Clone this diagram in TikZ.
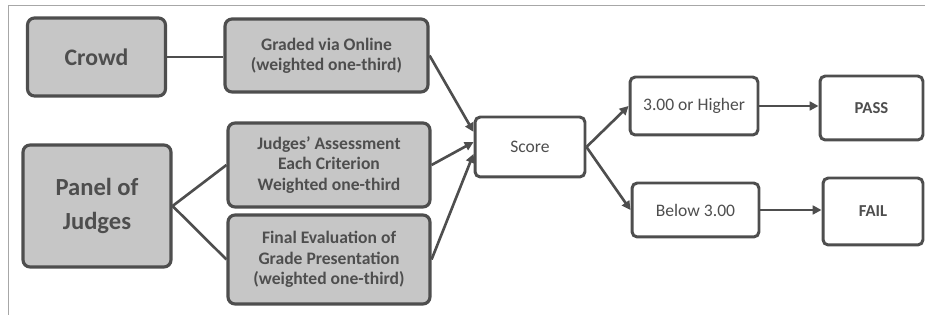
\documentclass[tikz,border=0pt]{standalone}
\usepackage{fontspec}
\setmainfont{Carlito}
\usetikzlibrary{arrows.meta}
\definecolor{edgegray}{RGB}{78,78,78}
\definecolor{fillgray}{RGB}{198,198,198}
\tikzset{
  greybox/.style={draw=edgegray, fill=fillgray, line width=1.8pt, rounded corners=4pt, align=center, text=edgegray, font=\bfseries\fontsize{10}{11.5}\selectfont},
  whitebox/.style={draw=edgegray, fill=white, line width=1.7pt, rounded corners=3pt, align=center, text=edgegray, font=\fontsize{10}{12}\selectfont},
  link/.style={draw=edgegray, line width=1.5pt},
  arr/.style={link, -{Triangle[length=5pt,width=5pt]}}
}

\begin{document}
\begin{tikzpicture}[x=0.02cm,y=-0.02cm]
        \useasboundingbox (0,0) rectangle (929,323);
        % edges of the scanned page
        \draw[edgegray!50, line width=0.4pt] (8,5) -- (925,5);
        \draw[edgegray!50, line width=0.4pt] (8,5) -- (8,315);
        % sources
        \node[greybox, minimum width=2.76cm, minimum height=1.56cm, font=\bfseries\fontsize{13.5}{16}\selectfont] (crowd) at (96.5,57) {Crowd};
        \node[greybox, minimum width=2.96cm, minimum height=2.44cm, font=\bfseries\fontsize{14}{19}\selectfont] (panel) at (97,206) {Panel of\\Judges};
        % weighted parts
        \node[greybox, minimum width=4.06cm, minimum height=1.46cm] (online) at (326.5,55.5) {Graded via Online\\(weighted one-third)};
        \node[greybox, minimum width=4.04cm, minimum height=1.68cm] (assess) at (329,165) {Judges' Assessment\\Each Criterion\\Weighted one-third};
        \node[greybox, minimum width=4.04cm, minimum height=1.78cm] (final) at (329,259.5) {Final Evaluation of\\Grade Presentation\\(weighted one-third)};
        % result
        \node[whitebox, minimum width=2.2cm, minimum height=1.2cm] (score) at (530,147) {Score};
        \node[whitebox, minimum width=2.56cm, minimum height=1.16cm] (high) at (694,106) {3.00 or Higher};
        \node[whitebox, minimum width=2.54cm, minimum height=1.08cm] (below) at (695.5,210) {Below 3.00};
        \node[whitebox, minimum width=2.06cm, minimum height=1.28cm, font=\bfseries\fontsize{9.5}{11}\selectfont] (pass) at (871.5,108) {PASS};
        \node[whitebox, minimum width=2cm, minimum height=1.34cm, font=\bfseries\fontsize{9.5}{11}\selectfont] (fail) at (873,211.5) {FAIL};
        % connectors
        \draw[link] (crowd.east) -- (online.west |- crowd.east);
        \draw[link] (panel.east) -- (assess.west);
        \draw[link] (panel.east) -- (final.west);
        \draw[arr] (online.east) -- (score.165);
        \draw[arr] (assess.east) -- (score.175);
        \draw[arr] (final.east) -- (score.187);
        \draw[arr] (score.east) -- (high.west);
        \draw[arr] (score.east) -- (below.west);
        \draw[arr] (high.east) -- (pass.west |- high.east);
        \draw[arr] (below.east) -- (fail.west |- below.east);
    \end{tikzpicture}
\end{document}
